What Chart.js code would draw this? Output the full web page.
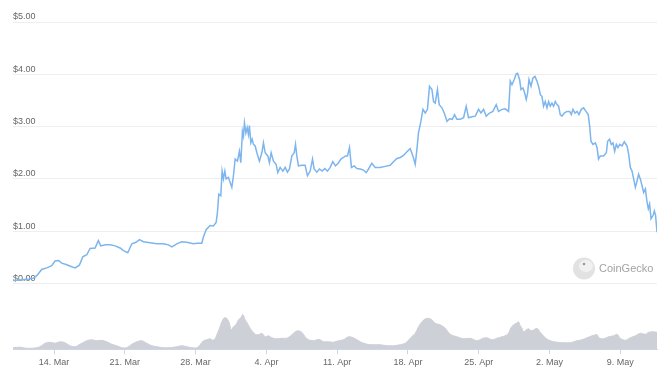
<!DOCTYPE html>
<html>
<head>
<meta charset="utf-8">
<script src="https://cdn.jsdelivr.net/npm/chart.js@4.4.1/dist/chart.umd.min.js"></script>
<style>
  html, body { margin: 0; padding: 0; background: #fff; }
  canvas { display: block; }
</style>
</head>
<body>
<canvas id="chart" width="660" height="379"></canvas>
<script>
// days counted from 14 Mar (0 = 14. Mar, 7 = 21. Mar ...)
const tickDays = [0, 7, 14, 21, 28, 35, 42, 49, 56];
const tickLabels = ['14. Mar', '21. Mar', '28. Mar', '4. Apr', '11. Apr', '18. Apr', '25. Apr', '2. May', '9. May'];
const priceTicks = [0, 1, 2, 3, 4, 5];

// price in USD
const priceDays = [
  -4.06, -3.36, -2.67, -2.05, -1.71, -1.22, -0.72, -0.23, 0.10, 0.43, 0.76, 1.26, 1.75, 2.08, 2.50, 2.84,
  3.24, 3.56, 4.06, 4.38, 4.62, 5.05, 5.54, 6.04, 6.53, 6.86, 7.29, 7.69, 8.11, 8.44, 8.84, 9.50,
  10.16, 10.81, 11.31, 11.65, 12.14, 12.63, 13.13, 13.78,
  14.12, 14.61, 14.77, 15.04, 15.43, 15.76, 16.03, 16.16, 16.29, 16.49, 16.62, 16.75, 16.89, 17.02, 17.24, 17.58,
  17.74, 17.91, 18.14, 18.33, 18.47, 18.63, 18.73, 18.83, 18.97, 19.10, 19.22, 19.32, 19.46, 19.59, 19.72, 19.89,
  20.06, 20.31, 20.55, 20.71, 20.88, 21.14, 21.30, 21.47, 21.70, 21.96, 22.13, 22.36, 22.63, 22.86, 23.08, 23.28,
  23.52, 23.75, 23.88, 24.01, 24.17, 24.51, 24.83, 25.06, 25.33, 25.56, 25.72, 25.99, 26.25, 26.52, 26.78, 27.04,
  27.31, 27.57, 27.83, 28.10, 28.37, 28.62, 28.82, 29.02, 29.22, 29.41, 29.68, 29.95, 30.28,
  30.60, 30.87, 31.10, 31.43, 31.76, 32.25, 32.75, 33.24, 33.57, 33.91, 34.23, 34.56, 34.90, 35.22, 35.49, 35.72,
  35.89, 36.04, 36.28, 36.48, 36.71, 36.93, 37.13, 37.37, 37.53, 37.70, 37.92, 38.09, 38.36, 38.59, 38.86, 39.11,
  39.38, 39.61, 39.84, 40.17, 40.50, 40.76, 40.99, 41.33, 41.66, 41.98, 42.22, 42.48, 42.74, 43.07, 43.40, 43.73,
  43.96, 44.30, 44.62, 44.95, 45.12,
  45.29, 45.51, 45.71, 45.84, 46.04, 46.18, 46.37, 46.50, 46.70, 46.83, 46.97, 47.17, 47.36, 47.56, 47.76, 47.96,
  48.09, 48.25, 48.41, 48.58, 48.75, 48.91, 49.07, 49.24, 49.40, 49.57, 49.74, 49.90, 50.06, 50.23, 50.46, 50.73,
  50.99, 51.15, 51.32, 51.52, 51.72, 51.91, 52.14, 52.37, 52.61, 52.83, 52.97, 53.10, 53.30, 53.53, 53.70, 53.85,
  54.02, 54.35, 54.62, 54.75, 54.94, 55.11, 55.28, 55.44, 55.61, 55.77, 55.94, 56.17, 56.40, 56.67, 56.83, 56.99,
  57.16, 57.32, 57.49, 57.66, 57.81, 57.98, 58.15, 58.31, 58.48, 58.65, 58.77, 58.90, 59.04, 59.24, 59.37, 59.49,
  59.63
];
const priceUsd = [
  0.06, 0.07, 0.08, 0.10, 0.15, 0.27, 0.30, 0.34, 0.43, 0.44, 0.39, 0.36, 0.32, 0.30, 0.35, 0.51,
  0.55, 0.67, 0.68, 0.82, 0.72, 0.74, 0.74, 0.72, 0.68, 0.63, 0.59, 0.76, 0.79, 0.84, 0.80, 0.78,
  0.76, 0.76, 0.74, 0.70, 0.76, 0.80, 0.79, 0.76,
  0.77, 0.77, 0.89, 1.03, 1.11, 1.10, 1.17, 1.36, 1.71, 1.68, 2.15, 2.00, 2.15, 2.00, 2.03, 1.84,
  2.06, 2.38, 2.34, 2.53, 2.31, 2.91, 2.82, 3.07, 2.88, 2.98, 2.85, 3.02, 2.69, 2.76, 2.66, 2.63,
  2.50, 2.34, 2.50, 2.69, 2.50, 2.44, 2.31, 2.50, 2.34, 2.28, 2.12, 2.22, 2.15, 2.22, 2.13, 2.19,
  2.44, 2.50, 2.66, 2.44, 2.25, 2.26, 2.26, 2.06, 2.15, 2.38, 2.19, 2.13, 2.19, 2.15, 2.20, 2.15,
  2.22, 2.33, 2.25, 2.30, 2.38, 2.41, 2.44, 2.44, 2.60, 2.22, 2.25, 2.20, 2.19,
  2.17, 2.12, 2.19, 2.30, 2.22, 2.22, 2.24, 2.26, 2.33, 2.39, 2.41, 2.45, 2.52, 2.58, 2.44, 2.28,
  2.57, 2.88, 3.10, 3.33, 3.26, 3.33, 3.77, 3.71, 3.48, 3.45, 3.71, 3.42, 3.36, 3.26, 3.10, 3.15,
  3.14, 3.23, 3.14, 3.14, 3.17, 3.39, 3.17, 3.19, 3.20, 3.33, 3.26, 3.33, 3.20, 3.26, 3.29, 3.42,
  3.29, 3.33, 3.34, 3.29, 3.87,
  3.80, 3.90, 4.01, 4.02, 3.90, 3.71, 3.74, 3.67, 3.52, 3.64, 3.90, 3.77, 3.93, 3.96, 3.87, 3.74,
  3.61, 3.58, 3.39, 3.48, 3.36, 3.48, 3.39, 3.45, 3.39, 3.48, 3.42, 3.39, 3.23, 3.20, 3.26, 3.29,
  3.29, 3.23, 3.33, 3.26, 3.29, 3.23, 3.33, 3.36, 3.29, 3.23, 3.01, 2.72, 2.66, 2.69, 2.60, 2.38,
  2.44, 2.44, 2.50, 2.72, 2.76, 2.66, 2.69, 2.53, 2.66, 2.60, 2.66, 2.63, 2.71, 2.63, 2.47, 2.22,
  2.15, 2.00, 1.84, 1.96, 2.09, 2.00, 1.87, 1.74, 1.81, 1.55, 1.43, 1.52, 1.24, 1.30, 1.39, 1.30,
  0.98
];

// traded volume, million USD
const volumeDays = [
  -4.06, -3.36, -2.77, -2.08, -1.71, -1.39, -0.89, -0.40, 0.10, 0.59, 1.09, 1.58, 2.08, 2.57, 3.23, 3.73,
  4.22, 4.72, 5.21, 5.71, 6.20, 6.70, 7.19, 7.69, 8.18, 8.68, 9.17, 9.67, 10.16, 10.81, 11.48, 12.14,
  12.63, 13.13, 13.62, 14.12, 14.45, 14.77, 15.11, 15.43, 15.70, 15.93, 16.10, 16.36, 16.59, 16.82, 17.09, 17.34,
  17.51, 17.74, 18.01, 18.24, 18.47, 18.67, 18.90, 19.13, 19.39, 19.66, 19.89, 20.21, 20.55, 20.88, 21.20, 21.54,
  22.03, 22.53, 23.02, 23.52, 23.84, 24.17, 24.51, 24.83, 25.16, 25.66, 25.99, 26.32, 26.64, 27.14, 27.63, 28.13,
  28.62, 29.12, 29.61, 30.28, 30.94, 31.59, 32.25, 32.92, 33.57, 34.23, 34.73, 35.22, 35.72, 36.04, 36.38, 36.71,
  37.03, 37.37, 37.70, 38.19, 38.69, 39.18, 39.84, 40.50, 41.16, 41.82, 42.32, 42.81, 43.31, 43.80, 44.30, 44.62,
  44.95, 45.18, 45.45, 45.71, 45.94, 46.11, 46.28, 46.44, 46.70, 46.93, 47.17, 47.43, 47.76, 48.09, 48.58, 49.07,
  49.74, 50.40, 51.06, 51.72, 52.21, 52.71, 53.20, 53.70, 53.95, 54.35, 54.85, 55.34, 55.68, 56.00, 56.50, 56.99,
  57.49, 57.98, 58.48, 58.81, 59.30, 59.63
];
const volumeM = [
  3, 4, 2, 2, 3, 5, 12, 14, 12, 15, 13, 7, 5, 10, 17, 19,
  17, 18, 15, 10, 7, 3, 3, 10, 15, 17, 12, 7, 5, 3, 3, 5,
  7, 5, 3, 3, 9, 17, 19, 21, 18, 21, 29, 42, 55, 63, 62, 52,
  39, 45, 50, 59, 63, 70, 59, 52, 42, 35, 30, 29, 32, 25, 27, 23,
  21, 22, 22, 29, 35, 37, 34, 25, 19, 17, 19, 19, 15, 15, 14, 17,
  19, 25, 23, 15, 10, 9, 9, 7, 7, 9, 12, 22, 32, 45, 55, 61,
  62, 59, 52, 49, 42, 30, 25, 21, 22, 17, 21, 23, 19, 22, 25, 27,
  32, 43, 49, 52, 55, 47, 42, 35, 39, 41, 37, 39, 42, 34, 23, 17,
  14, 13, 13, 17, 19, 23, 27, 29, 22, 21, 25, 27, 30, 22, 18, 23,
  27, 32, 30, 34, 35, 34
];

const labelFont = { family: "'Liberation Sans', Arial, sans-serif", size: 9 };

const watermark = {
  id: 'watermark',
  afterDraw(chart) {
    const ctx = chart.ctx;
    ctx.save();
    ctx.beginPath();
    ctx.arc(584, 268.5, 11, 0, Math.PI * 2);
    ctx.fillStyle = '#e2e2e2';
    ctx.fill();
    ctx.beginPath();
    ctx.ellipse(586, 266, 7, 6, 0, 0, Math.PI * 2);
    ctx.fillStyle = '#f1f1f1';
    ctx.fill();
    ctx.beginPath();
    ctx.arc(584, 264, 1.3, 0, Math.PI * 2);
    ctx.fillStyle = '#9a9a9a';
    ctx.fill();
    ctx.font = "11px 'Liberation Sans', Arial, sans-serif";
    ctx.fillStyle = '#a3a3a3';
    ctx.textBaseline = 'middle';
    ctx.fillText('CoinGecko', 599, 268.5);
    ctx.restore();
  }
};

new Chart(document.getElementById('chart'), {
  type: 'line',
  data: {
    datasets: [
      {
        label: 'Price',
        data: priceDays.map((d, i) => ({ x: d, y: priceUsd[i] })),
        yAxisID: 'y',
        borderColor: '#7db5ee',
        borderWidth: 1.5,
        pointRadius: 0,
        tension: 0,
        fill: false,
        order: 1
      },
      {
        label: 'Volume',
        data: volumeDays.map((d, i) => ({ x: d, y: volumeM[i] })),
        yAxisID: 'vol',
        borderColor: '#cdd0d7',
        backgroundColor: '#cdd0d7',
        borderWidth: 1,
        pointRadius: 0,
        tension: 0.3,
        fill: 'origin',
        order: 2
      }
    ]
  },
  options: {
    responsive: false,
    animation: false,
    layout: { padding: { left: 13, right: 3, top: 22, bottom: 8 } },
    plugins: { legend: { display: false }, tooltip: { enabled: false } },
    scales: {
      x: {
        type: 'linear',
        min: -4.06,
        max: 59.63,
        afterBuildTicks: s => { s.ticks = tickDays.map(v => ({ value: v })); },
        ticks: {
          autoSkip: false,
          maxRotation: 0,
          padding: 3,
          color: '#666',
          font: labelFont,
          callback: v => tickLabels[tickDays.indexOf(v)]
        },
        grid: { drawOnChartArea: false, tickLength: 5, color: '#ccd6eb' },
        border: { color: '#ccd6eb' }
      },
      y: {
        position: 'left',
        min: -1.255,
        max: 5,
        afterBuildTicks: s => { s.ticks = priceTicks.map(v => ({ value: v })); },
        ticks: {
          mirror: true,
          padding: 0,
          labelOffset: -5,
          color: '#666',
          font: labelFont,
          callback: v => '$' + v.toFixed(2)
        },
        grid: { color: '#eeeeee', drawTicks: false },
        border: { display: false }
      },
      vol: {
        position: 'right',
        display: false,
        min: 0,
        max: 658
      }
    }
  },
  plugins: [watermark]
});
</script>
</body>
</html>
